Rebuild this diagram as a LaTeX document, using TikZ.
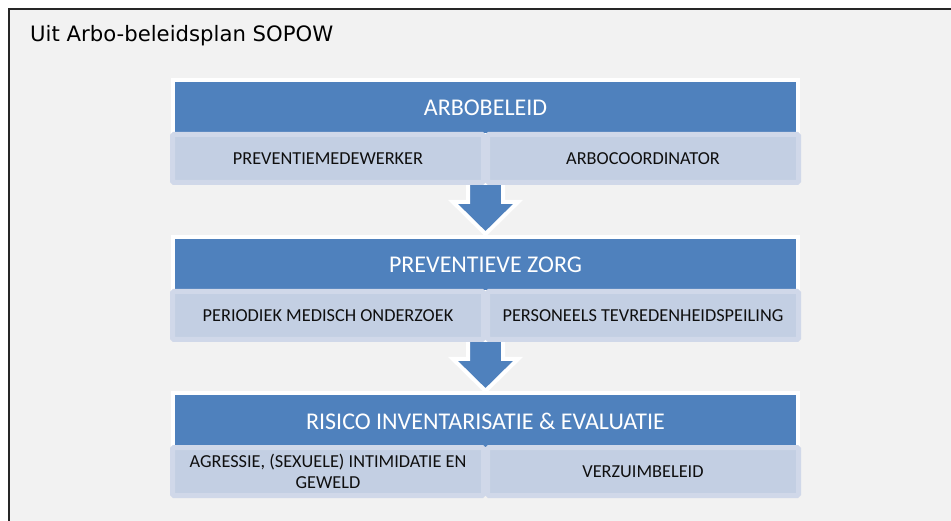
\documentclass[tikz,border=0pt]{standalone}
\usepackage{fontspec}
\setmainfont{Carlito}
\newfontfamily\verd{DejaVu Sans}
\definecolor{bg}{RGB}{242,242,242}
\definecolor{hblue}{RGB}{79,129,189}
\definecolor{subin}{RGB}{195,207,227}
\definecolor{subout}{RGB}{208,216,233}
\definecolor{txt}{RGB}{15,15,15}
\begin{document}
\begin{tikzpicture}[x=1pt,y=-1pt,
  header/.style={fill=hblue, draw=white, line width=4pt, text=white,
    font=\fontsize{24}{28}\selectfont, minimum width=625pt, minimum height=55pt, inner sep=0pt},
  subbox/.style={fill=subin, draw=subout, line width=5pt, rounded corners=1.5pt, text=txt,
    font=\fontsize{18.3}{21}\selectfont, minimum width=311pt, minimum height=48pt, inner sep=0pt,
    align=center},
  blockarrow/.style={fill=hblue, draw=white, line width=4pt, line join=miter}]
\useasboundingbox (0,0) rectangle (951,521);
\clip (0,0) rectangle (951,521);
\fill[white] (0,0) rectangle (951,521);
\draw[line width=1.8pt, draw=black!85, fill=bg] (9,9) rectangle (980,550);
\node[font=\verd\fontsize{21.2}{25}\selectfont, anchor=base west, inner sep=0pt] (title) at (30,42) {Uit Arbo-beleidsplan SOPOW};
% arrows
\foreach \d/\nm in {0/ar1, 157/ar2}{
  \draw[blockarrow] (468,183+\d) -- (468,202+\d) -- (453,202+\d) -- (485.5,234+\d) -- (518,202+\d) -- (503,202+\d) -- (503,183+\d) -- cycle;
}
% box 1
\node[header] (h1) at (485.5,107.5) {ARBOBELEID};
\node[subbox] (a1) at (328,158.5) {PREVENTIEMEDEWERKER};
\node[subbox] (b1) at (643,158.5) {ARBOCOORDINATOR};
% box 2
\node[header] (h2) at (485.5,264.5) {PREVENTIEVE ZORG};
\node[subbox] (a2) at (328,315.5) {PERIODIEK MEDISCH ONDERZOEK};
\node[subbox] (b2) at (643,315.5) {PERSONEELS TEVREDENHEIDSPEILING};
% box 3
\node[header] (h3) at (485.5,421) {RISICO INVENTARISATIE \& EVALUATIE};
\node[subbox] (a3) at (328,471.5) {AGRESSIE, (SEXUELE) INTIMIDATIE EN\\GEWELD};
\node[subbox] (b3) at (643,471.5) {VERZUIMBELEID};
\end{tikzpicture}
\end{document}
